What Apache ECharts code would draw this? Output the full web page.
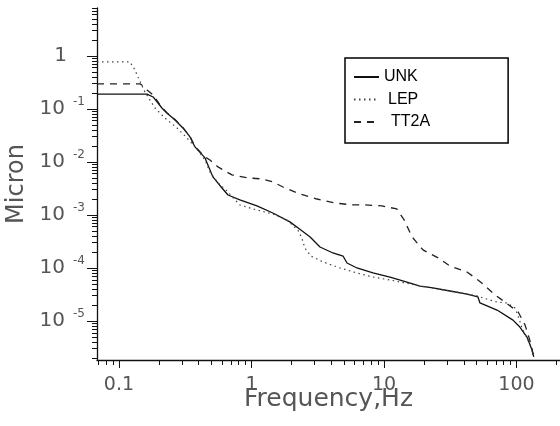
<!DOCTYPE html>
<html>
<head>
<meta charset="utf-8">
<title>Micron vs Frequency</title>
<script src="https://cdn.jsdelivr.net/npm/echarts@6/dist/echarts.min.js"></script>
<style>
  html, body { margin: 0; padding: 0; background: #fff; }
  #chart { width: 560px; height: 426px; }
</style>
</head>
<body>
<div id="chart"></div>
<script>
// values (frequency in Hz, amplitude in micron)
const unkFreq = [0.0683, 0.163, 0.181, 0.211, 0.230, 0.265, 0.304, 0.344, 0.375, 0.446, 0.512, 0.599, 0.665, 0.818, 1.10, 1.45, 1.95, 2.32, 2.77, 3.29, 4.12, 4.91, 5.26, 6.25, 8.26, 11.1, 14.9, 18.7, 23.4, 31.5, 42.3, 51.2, 53.0, 71.3, 94.1, 106, 120, 131, 135];
const unkAmp = [0.19, 0.19, 0.168, 0.104, 0.084, 0.062, 0.0438, 0.0296, 0.0192, 0.0119, 0.00521, 0.00323, 0.00238, 0.00192, 0.00148, 0.00109, 7.4e-4, 5.4e-4, 3.85e-4, 2.49e-4, 1.92e-4, 1.68e-4, 1.24e-4, 1.0e-4, 8.05e-5, 6.76e-5, 5.44e-5, 4.57e-5, 4.2e-5, 3.68e-5, 3.23e-5, 2.84e-5, 2.19e-5, 1.61e-5, 1.04e-5, 7.7e-6, 4.99e-6, 2.84e-6, 2.1e-6];

const lepFreq = [0.0683, 0.121, 0.132, 0.139, 0.157, 0.187, 0.222, 0.274, 0.326, 0.394, 0.446, 0.486, 0.559, 0.653, 0.818, 1.10, 1.45, 1.85, 2.24, 2.40, 2.53, 2.81, 3.47, 4.66, 6.25, 8.26, 11.1, 14.4, 18.7, 31.5, 51.2, 55.8, 71.3, 84.7, 97.5, 103, 110, 120, 131, 135];
const lepAmp = [0.77, 0.77, 0.544, 0.40, 0.209, 0.104, 0.0676, 0.0438, 0.0284, 0.0168, 0.0109, 0.00648, 0.00402, 0.00284, 0.00154, 0.00124, 0.00104, 8.05e-4, 5.2e-4, 3.68e-4, 2.38e-4, 1.68e-4, 1.30e-4, 1.0e-4, 8.05e-5, 6.76e-5, 5.94e-5, 5.21e-5, 4.57e-5, 3.68e-5, 2.96e-5, 2.72e-5, 2.28e-5, 2.19e-5, 1.76e-5, 1.24e-5, 7.4e-6, 4.78e-6, 2.96e-6, 2.1e-6];

const tt2aFreq = [0.0683, 0.144, 0.152, 0.163, 0.181, 0.211, 0.230, 0.265, 0.304, 0.344, 0.375, 0.446, 0.486, 0.559, 0.713, 0.941, 1.20, 1.45, 1.73, 2.32, 3.12, 4.27, 5.73, 7.19, 9.66, 12.5, 14.2, 16.3, 19.7, 25.6, 31.5, 42.3, 51.2, 55.8, 68.8, 81.9, 103, 116, 126, 135];
const tt2aAmp = [0.296, 0.296, 0.272, 0.228, 0.184, 0.106, 0.085, 0.063, 0.0445, 0.030, 0.0195, 0.0124, 0.0109, 0.00805, 0.00569, 0.00499, 0.00478, 0.0042, 0.00337, 0.00249, 0.0020, 0.00168, 0.00155, 0.00155, 0.00148, 0.0013, 8.05e-4, 3.85e-4, 2.19e-4, 1.55e-4, 1.09e-4, 8.4e-5, 5.94e-5, 4.99e-5, 3.1e-5, 2.28e-5, 1.48e-5, 8.4e-6, 4.38e-6, 2.1e-6];

const seriesNames = ['UNK', 'LEP', 'TT2A'];
const xMajorTicks = [0.1, 1, 10, 100];
const yMajorTicks = [1e-5, 1e-4, 1e-3, 1e-2, 1e-1, 1];

const xMin = 0.0683, xMax = 213;
const yMin = 1.84e-6, yMax = 8;

function pairs(xs, ys) {
    return xs.map((x, i) => [x, ys[i]]);
}

// 2..9 ticks inside each decade
function minorTicks(lo, hi) {
    const out = [];
    for (let e = Math.floor(Math.log10(lo)); e <= Math.ceil(Math.log10(hi)); e++) {
        for (let k = 2; k <= 9; k++) {
            const v = k * Math.pow(10, e);
            if (v >= lo && v <= hi) out.push(v);
        }
    }
    return out;
}

const labelFont = 'DejaVu Sans';
const axisColor = '#111';
const textColor = '#555';

const chart = echarts.init(document.getElementById('chart'));

const option = {
    backgroundColor: '#fff',
    animation: false,
    grid: { left: 97, right: 0, top: 8, bottom: 66, outerBoundsMode: 'none' },
    legend: {
        data: [
            { name: 'UNK' },
            { name: 'LEP', textStyle: { padding: [0, 0, 0, 4] } },
            { name: 'TT2A', textStyle: { padding: [0, 0, 0, 7] } }
        ],
        orient: 'vertical',
        left: 345,
        top: 58,
        padding: [11, 78, 13, 8],
        itemGap: 6.5,
        itemWidth: 25,
        itemHeight: 14,
        borderColor: '#000',
        borderWidth: 1.5,
        backgroundColor: '#fff',
        // hide the symbol that line series put in the middle of the legend icon
        itemStyle: { opacity: 0 },
        textStyle: { fontFamily: 'Liberation Sans', fontSize: 16, color: '#000' }
    },
    xAxis: [{
        type: 'log',
        min: xMin,
        max: xMax,
        position: 'bottom',
        name: 'Frequency,Hz',
        nameLocation: 'middle',
        nameGap: 27,
        nameMoveOverlap: false,
        nameTextStyle: { fontFamily: labelFont, fontSize: 25, color: textColor, verticalAlign: 'top' },
        axisLine: { show: true, lineStyle: { color: axisColor, width: 1.3 } },
        axisTick: { show: true, inside: false, length: 8, customValues: xMajorTicks, lineStyle: { color: axisColor, width: 1 } },
        axisLabel: {
            customValues: xMajorTicks,
            margin: 16,
            fontFamily: labelFont,
            fontSize: 19,
            color: textColor,
            formatter: v => (v < 1 ? String(v) : String(Math.round(v)))
        },
        splitLine: { show: false },
        minorTick: { show: false }
    }, {
        type: 'log',
        min: xMin,
        max: xMax,
        position: 'bottom',
        axisLine: { show: false },
        axisTick: { show: true, length: 5, customValues: minorTicks(xMin, xMax), lineStyle: { color: axisColor, width: 1 } },
        axisLabel: { show: false },
        splitLine: { show: false }
    }],
    yAxis: [{
        type: 'log',
        min: yMin,
        max: yMax,
        position: 'left',
        name: 'Micron',
        nameLocation: 'middle',
        nameGap: 68,
        nameRotate: 90,
        nameMoveOverlap: false,
        nameTextStyle: { fontFamily: labelFont, fontSize: 24, color: textColor },
        axisLine: { show: true, lineStyle: { color: axisColor, width: 1.3 } },
        axisTick: { show: true, inside: false, length: 10, customValues: yMajorTicks, lineStyle: { color: axisColor, width: 1 } },
        axisLabel: {
            customValues: yMajorTicks,
            margin: 12,
            formatter: function (v) {
                const e = Math.round(Math.log10(v));
                if (e === 0) return '{one|1}';
                return '{m|10}{e|-' + (-e) + '}';
            },
            rich: {
                one: { fontFamily: labelFont, fontSize: 20, color: textColor, padding: [0, 18, 0, 0] },
                m: { fontFamily: labelFont, fontSize: 20, color: textColor },
                e: { fontFamily: labelFont, fontSize: 12, color: textColor, padding: [0, 0, 14, 8] }
            }
        },
        splitLine: { show: false },
        minorTick: { show: false }
    }, {
        type: 'log',
        min: yMin,
        max: yMax,
        position: 'left',
        axisLine: { show: false },
        axisTick: { show: true, length: 5, customValues: minorTicks(yMin, yMax), lineStyle: { color: axisColor, width: 1 } },
        axisLabel: { show: false },
        splitLine: { show: false }
    }],
    series: [{
        name: seriesNames[0],
        type: 'line',
        data: pairs(unkFreq, unkAmp),
        showSymbol: false,
        symbol: 'none',
        lineStyle: { color: '#111', width: 1.3, type: 'solid' },
        itemStyle: { color: '#111' }
    }, {
        name: seriesNames[1],
        type: 'line',
        data: pairs(lepFreq, lepAmp),
        showSymbol: false,
        symbol: 'none',
        lineStyle: { color: '#444', width: 1.2, type: [1.5, 3.5] },
        itemStyle: { color: '#444' }
    }, {
        name: seriesNames[2],
        type: 'line',
        data: pairs(tt2aFreq, tt2aAmp),
        showSymbol: false,
        symbol: 'none',
        lineStyle: { color: '#222', width: 1.3, type: [7, 6] },
        itemStyle: { color: '#222' }
    }]
};

chart.setOption(option);
</script>
</body>
</html>
